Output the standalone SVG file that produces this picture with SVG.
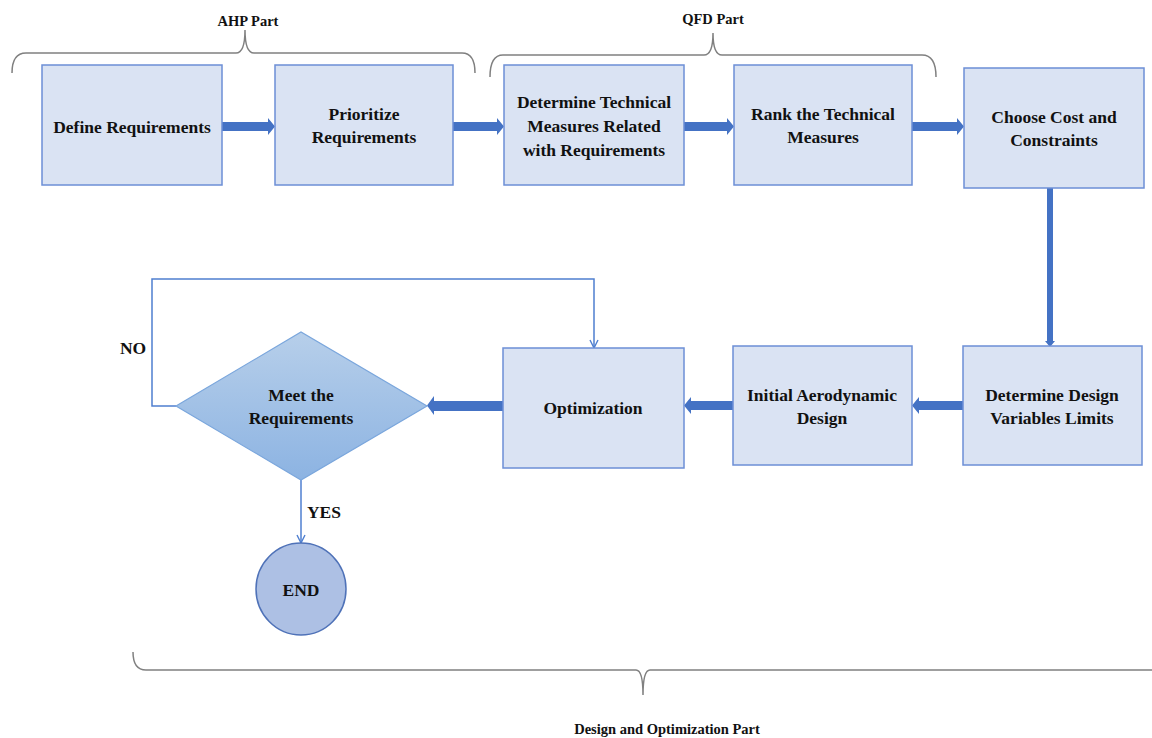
<svg xmlns="http://www.w3.org/2000/svg" width="1152" height="738" viewBox="0 0 1152 738">
<style>
.box{fill:#dae3f3;stroke:#6c8fd6;stroke-width:1.5}
.t{font-family:"Liberation Serif","Times New Roman",serif;font-weight:bold;font-size:17.5px;fill:#111;text-anchor:middle}
.s{font-family:"Liberation Serif","Times New Roman",serif;font-weight:bold;font-size:14.5px;fill:#111;text-anchor:middle}
.brace{fill:none;stroke:#808080;stroke-width:1.5}
.big{fill:#4472c4}
.thin{fill:none;stroke:#4f7fd0;stroke-width:1.5}
</style>
<defs>
<linearGradient id="dg" x1="0" y1="0" x2="0" y2="1">
<stop offset="0" stop-color="#b7cfea"/>
<stop offset="1" stop-color="#8cb3e2"/>
</linearGradient>
<marker id="open" viewBox="0 0 10 10" refX="9" refY="5" markerWidth="10" markerHeight="10" markerUnits="userSpaceOnUse" orient="auto">
<path d="M1,1 L9,5 L1,9" fill="none" stroke="#4f7fd0" stroke-width="1.4"/>
</marker>
</defs>
<rect width="1152" height="738" fill="#fff"/>

<g id="braces">
<path class="brace" d="M12,73 Q12,53 26,53 L236,53 Q245,53 245,30 Q245,53 254,53 L462,53 Q475,53 475,73"/>
<path class="brace" d="M490,77 Q490,55 503,55 L704,55 Q713,55 713,33 Q713,55 722,55 L922,55 Q936,55 936,77"/>
<path class="brace" d="M133,652 Q133,670 146,670 L636,670 Q643,670 643,695 Q643,670 650,670 L1152,670"/>
<text class="s" x="248" y="26">AHP Part</text>
<text class="s" x="713" y="24">QFD Part</text>
<text class="s" x="667" y="734">Design and  Optimization  Part</text>
</g>

<g id="connectors">
<path class="big" d="M222,122 H268 V118 L275,126.5 L268,135 V131 H222 Z"/>
<path class="big" d="M453,122 H497 V118 L504,126.5 L497,135 V131 H453 Z"/>
<path class="big" d="M684,122 H727 V118 L734,126.5 L727,135 V131 H684 Z"/>
<path class="big" d="M912,122 H957 V118 L964,126.5 L957,135 V131 H912 Z"/>
<path class="big" d="M1047,188 V341 H1045 L1050,347 L1055,341 H1053 V188 Z"/>
<path class="big" d="M963,401 H919 V397 L912,405.5 L919,414 V410 H963 Z"/>
<path class="big" d="M733,401 H691 V397 L684,405.5 L691,414 V410 H733 Z"/>
<path class="big" d="M503,401 H434 V396 L427,405.5 L434,415 V411 H503 Z"/>
<path class="thin" d="M176,406 H152 V279 H594 V348" marker-end="url(#open)"/>
<path class="thin" d="M301,480 V543" marker-end="url(#open)"/>
<text class="t" x="133" y="354">NO</text>
<text class="t" x="324" y="518">YES</text>
</g>

<g id="n1"><rect class="box" x="42" y="65" width="180" height="120"/><text class="t" x="132" y="133">Define Requirements</text></g>
<g id="n2"><rect class="box" x="275" y="65" width="178" height="120"/><text class="t" x="364" y="120">Prioritize</text><text class="t" x="364" y="143">Requirements</text></g>
<g id="n3"><rect class="box" x="504" y="65" width="180" height="120"/><text class="t" x="594" y="108">Determine Technical</text><text class="t" x="594" y="132">Measures Related</text><text class="t" x="594" y="156">with  Requirements</text></g>
<g id="n4"><rect class="box" x="734" y="65" width="178" height="120"/><text class="t" x="823" y="120">Rank the Technical</text><text class="t" x="823" y="143">Measures</text></g>
<g id="n5"><rect class="box" x="964" y="68" width="180" height="120"/><text class="t" x="1054" y="123">Choose Cost and</text><text class="t" x="1054" y="146">Constraints</text></g>
<g id="n6"><rect class="box" x="963" y="346" width="179" height="119"/><text class="t" x="1052" y="401">Determine Design</text><text class="t" x="1052" y="424">Variables  Limits</text></g>
<g id="n7"><rect class="box" x="733" y="346" width="179" height="119"/><text class="t" x="822" y="401">Initial  Aerodynamic</text><text class="t" x="822" y="424">Design</text></g>
<g id="n8"><rect class="box" x="503" y="348" width="181" height="120"/><text class="t" x="593" y="414">Optimization</text></g>
<g id="n9"><path d="M176,406 L301,332 L427,406 L301,480 Z" fill="url(#dg)" stroke="#7aa6dc" stroke-width="1.2"/><text class="t" x="301" y="401">Meet the</text><text class="t" x="301" y="424">Requirements</text></g>
<g id="n10"><ellipse cx="301" cy="589" rx="45" ry="46" fill="#adc0e4" stroke="#4f72b8" stroke-width="1.5"/><text class="t" x="301" y="596">END</text></g>
</svg>
